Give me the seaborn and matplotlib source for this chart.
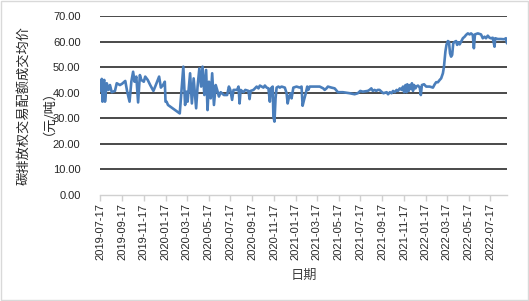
import matplotlib
matplotlib.use("Agg")
import matplotlib.pyplot as plt
import matplotlib.ticker as mticker
from matplotlib.patches import Rectangle
import seaborn as sns
import pandas as pd

dates = [
    "2019-07-17", "2019-07-22", "2019-07-24", "2019-07-26", "2019-07-29", "2019-07-31",
    "2019-08-05", "2019-08-10", "2019-08-14", "2019-08-19", "2019-08-28", "2019-09-02",
    "2019-09-11", "2019-09-17", "2019-09-26", "2019-10-01", "2019-10-08", "2019-10-13",
    "2019-10-18", "2019-10-22", "2019-10-27", "2019-11-01", "2019-11-06", "2019-11-10",
    "2019-11-17", "2019-11-21", "2019-11-28", "2019-12-05", "2019-12-14", "2019-12-19",
    "2019-12-30", "2020-01-04", "2020-01-10", "2020-01-15", "2020-01-17", "2020-01-20",
    "2020-01-24", "2020-02-26", "2020-03-07", "2020-03-12", "2020-03-16", "2020-03-19",
    "2020-03-26", "2020-03-31", "2020-04-05", "2020-04-12", "2020-04-16", "2020-04-21",
    "2020-04-26", "2020-04-30", "2020-05-05", "2020-05-10", "2020-05-14", "2020-05-18",
    "2020-05-23", "2020-05-27", "2020-06-01", "2020-06-06", "2020-06-10", "2020-06-15",
    "2020-06-20", "2020-06-29", "2020-07-08", "2020-07-13", "2020-07-17", "2020-07-22",
    "2020-07-26", "2020-08-05", "2020-08-09", "2020-08-12", "2020-08-15", "2020-08-23",
    "2020-08-28", "2020-09-06", "2020-09-09", "2020-09-12", "2020-09-20", "2020-09-24",
    "2020-09-29", "2020-10-04", "2020-10-08", "2020-10-18", "2020-10-22", "2020-10-27",
    "2020-11-01", "2020-11-05", "2020-11-08", "2020-11-13", "2020-11-15", "2020-11-18",
    "2020-11-21", "2020-11-24", "2020-11-29", "2020-12-03", "2020-12-08", "2020-12-17",
    "2020-12-22", "2020-12-25", "2020-12-29", "2021-01-03", "2021-01-05", "2021-01-10",
    "2021-01-19", "2021-01-28", "2021-02-02", "2021-02-05", "2021-02-09", "2021-02-14",
    "2021-02-18", "2021-02-21", "2021-02-25", "2021-03-07", "2021-03-25", "2021-04-04",
    "2021-04-08", "2021-04-13", "2021-04-17", "2021-04-27", "2021-05-06", "2021-05-15",
    "2021-05-29", "2021-06-17", "2021-07-01", "2021-07-10", "2021-07-17", "2021-07-24",
    "2021-08-07", "2021-08-12", "2021-08-17", "2021-08-21", "2021-08-26", "2021-08-31",
    "2021-09-04", "2021-09-09", "2021-09-16", "2021-09-20", "2021-09-29", "2021-10-03",
    "2021-10-08", "2021-10-13", "2021-10-17", "2021-10-22", "2021-10-27", "2021-10-31",
    "2021-11-05", "2021-11-10", "2021-11-14", "2021-11-17", "2021-11-21", "2021-11-24",
    "2021-11-26", "2021-11-30", "2021-12-03", "2021-12-06", "2021-12-09", "2021-12-12",
    "2021-12-15", "2021-12-19", "2021-12-21", "2021-12-26", "2021-12-31", "2022-01-03",
    "2022-01-06", "2022-01-12", "2022-01-18", "2022-01-28", "2022-02-06", "2022-02-11",
    "2022-02-15", "2022-02-20", "2022-02-25", "2022-03-01", "2022-03-06", "2022-03-09",
    "2022-03-13", "2022-03-16", "2022-03-20", "2022-03-23", "2022-03-26", "2022-03-29",
    "2022-04-01", "2022-04-04", "2022-04-08", "2022-04-12", "2022-04-15", "2022-04-19",
    "2022-04-22", "2022-04-26", "2022-05-01", "2022-05-06", "2022-05-10", "2022-05-15",
    "2022-05-20", "2022-05-24", "2022-05-29", "2022-06-01", "2022-06-04", "2022-06-12",
    "2022-06-21", "2022-06-26", "2022-07-01", "2022-07-05", "2022-07-10", "2022-07-15",
    "2022-07-19", "2022-07-24", "2022-07-29", "2022-07-31", "2022-08-07", "2022-08-16",
    "2022-08-25", "2022-08-30", "2022-09-02",
]

prices = [
    40.7, 45.4, 36.5, 44.0, 45.0, 36.5,
    43.7, 41.1, 43.0, 40.2, 40.7, 43.7,
    43.0, 43.5, 44.6, 40.7, 36.5, 44.3,
    48.2, 44.3, 46.3, 36.2, 46.9, 45.0,
    44.3, 46.3, 45.0, 43.0, 40.7, 42.4,
    46.3, 42.0, 43.0, 44.3, 36.5, 36.5,
    35.2, 31.9, 50.2, 35.2, 40.4, 36.5,
    47.6, 35.8, 45.6, 33.9, 42.4, 49.5,
    42.4, 50.2, 39.1, 48.9, 33.2, 44.3,
    37.8, 47.6, 35.2, 43.0, 41.1, 38.5,
    40.2, 39.1, 39.1, 42.4, 41.1, 37.2,
    41.1, 41.1, 42.4, 35.8, 41.1, 40.2,
    41.1, 40.7, 37.5, 40.7, 41.1, 41.7,
    42.4, 41.7, 42.8, 42.0, 42.8, 42.0,
    41.7, 36.5, 41.7, 42.4, 30.6, 28.7,
    37.8, 42.0, 42.4, 42.0, 42.4, 42.0,
    39.8, 35.8, 38.5, 39.8, 37.8, 42.0,
    42.4, 42.0, 42.4, 34.9, 37.2, 39.8,
    42.4, 41.1, 42.4, 42.4, 42.4, 41.7,
    41.1, 41.7, 42.4, 42.0, 41.7, 40.2,
    40.2, 39.8, 39.4, 39.8, 40.7, 40.4,
    40.7, 41.1, 41.7, 40.7, 41.1, 40.7,
    41.1, 41.1, 40.2, 39.8, 40.2, 39.4,
    40.2, 39.8, 40.7, 40.2, 41.1, 40.7,
    41.7, 41.1, 42.4, 40.2, 43.0, 40.2,
    43.3, 40.7, 43.0, 41.5, 43.7, 40.7,
    43.0, 41.7, 42.4, 42.8, 42.0, 39.1,
    43.0, 43.3, 42.4, 42.4, 42.0, 43.3,
    44.1, 44.1, 45.0, 45.6, 47.6, 50.2,
    56.1, 58.7, 60.2, 59.9, 55.4, 54.1,
    54.8, 59.3, 59.9, 60.2, 58.7, 59.7,
    58.9, 59.9, 61.3, 61.9, 62.6, 63.2,
    62.8, 63.2, 62.6, 57.4, 62.8, 63.2,
    62.8, 61.3, 61.9, 61.3, 62.3, 61.5,
    61.3, 61.5, 58.0, 61.3, 61.0, 61.0,
    60.9, 61.3, 59.3,
]

x_tick_labels = [
    "2019-07-17", "2019-09-17", "2019-11-17", "2020-01-17", "2020-03-17", "2020-05-17",
    "2020-07-17", "2020-09-17", "2020-11-17", "2021-01-17", "2021-03-17", "2021-05-17",
    "2021-07-17", "2021-09-17", "2021-11-17", "2022-01-17", "2022-03-17", "2022-05-17",
    "2022-07-17",
]
y_ticks = [0, 10, 20, 30, 40, 50, 60, 70]
x_label = "日期"
y_label = "碳排放权交易配额成交均价\n（元/吨）"

df = pd.DataFrame({"date": pd.to_datetime(dates), "price": prices})

sns.set_theme(style="white")
plt.rcParams["font.family"] = ["Liberation Sans", "Noto Sans CJK SC", "DejaVu Sans"]

fig = plt.figure(figsize=(5.29, 3.01), dpi=100)
ax = fig.add_axes([100 / 529, 1 - 195 / 301, 407 / 529, 179 / 301])

sns.lineplot(data=df, x="date", y="price", ax=ax, color="#4a7ebb", linewidth=1.9, zorder=3)

ax.set_ylim(0, 70)
ax.set_yticks(y_ticks)
ax.yaxis.set_major_formatter(mticker.FormatStrFormatter("%.2f"))
ax.set_xlim(df["date"].min(), df["date"].max())

ax.set_xticks(pd.to_datetime(x_tick_labels))
ax.set_xticklabels(x_tick_labels)

for y in y_ticks[1:]:
    ax.axhline(y, color="#3a3a3a", linewidth=1.3, zorder=1)

for s in ["top", "right", "left"]:
    ax.spines[s].set_visible(False)
ax.spines["bottom"].set_color("#d0d0d0")
ax.spines["bottom"].set_linewidth(1.0)

ax.tick_params(axis="x", which="major", direction="out", length=4, color="#d0d0d0",
               width=1.0, bottom=True, labelsize=8, labelcolor="#262626", rotation=90, pad=2)
ax.tick_params(axis="y", length=0, labelsize=8, labelcolor="#262626", pad=14)

ax.set_xlabel(x_label, fontsize=9.5, color="#404040", family=["Noto Sans CJK SC"], labelpad=6)
ax.set_ylabel(y_label, fontsize=9.5, color="#262626", family=["Noto Sans CJK SC"],
              linespacing=1.45, labelpad=3)

fig.patches.append(Rectangle((0.001, 0.002), 0.997, 0.995, transform=fig.transFigure,
                             fill=False, edgecolor="#d9d9d9", linewidth=1.0))

fig.savefig("out.png", dpi=100)
